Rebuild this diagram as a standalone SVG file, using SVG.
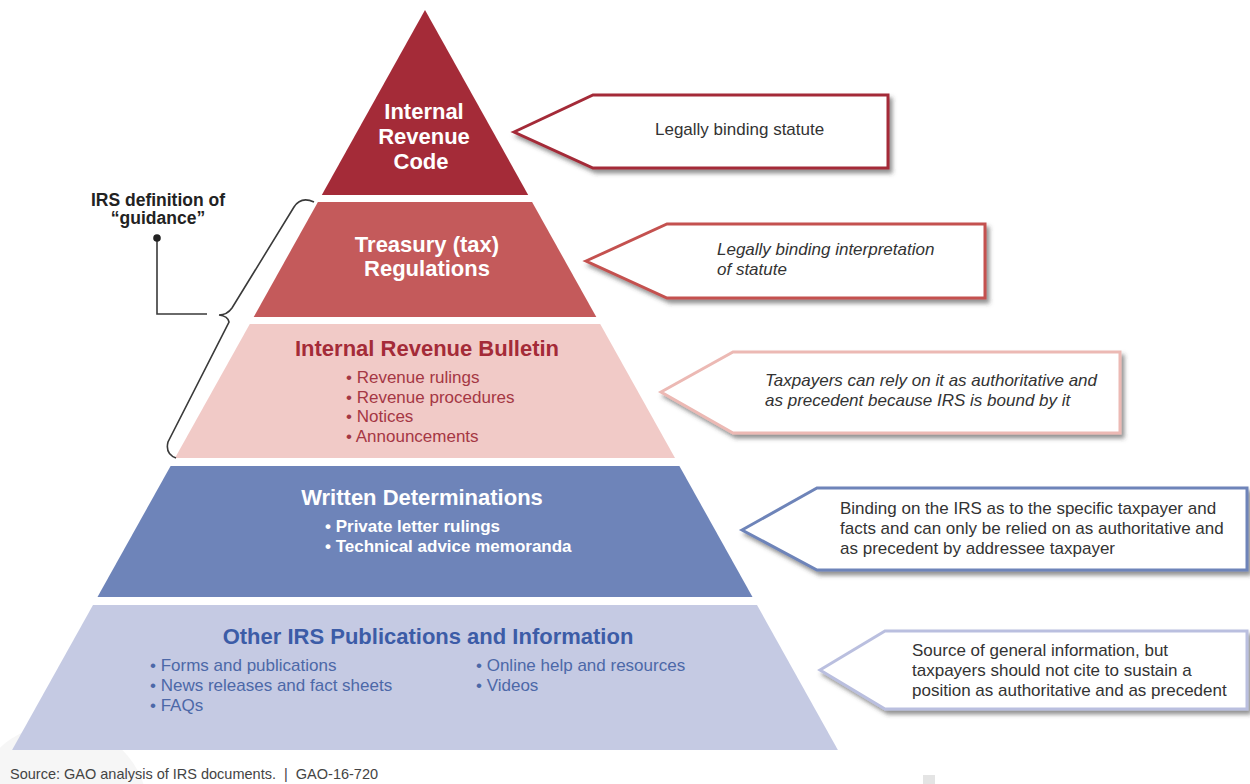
<svg xmlns="http://www.w3.org/2000/svg" width="1250" height="784" viewBox="0 0 1250 784">
  <defs>
    <filter id="shadow" x="-10%" y="-20%" width="130%" height="150%">
      <feDropShadow dx="3" dy="4" stdDeviation="2.2" flood-color="#3a3a3a" flood-opacity="0.55"/>
    </filter>
    <style>
      text { font-family: "Liberation Sans", Arial, sans-serif; }
      .tier-title { font-size: 22px; font-weight: bold; text-anchor: middle; }
      .white { fill: #ffffff; }
      .bul-red { font-size: 17px; fill: #a53744; }
      .bul-white { font-size: 17px; font-weight: bold; fill: #ffffff; }
      .bul-blue { font-size: 17px; fill: #4c68a8; }
      .note { font-size: 17px; fill: #333333; }
      .note-i { font-size: 17px; fill: #333333; font-style: italic; }
      .callout { fill: #ffffff; stroke-width: 3; stroke-linejoin: miter; filter: url(#shadow); }
      .brace { fill: none; stroke: #3a3a3a; stroke-width: 1.6; }
    </style>
  </defs>

  <rect width="1250" height="784" fill="#ffffff"/>

  <!-- faint background marks -->
  <circle cx="60" cy="812" r="88" fill="#f0f0f0" opacity="0.6"/>
  <rect x="923" y="775" width="12" height="9" fill="#e4e4e4"/>

  <!-- pyramid tiers -->
  <g id="tier-code">
    <polygon points="425,10 528.2,195 321.8,195" fill="#a42b38"/>
    <text class="tier-title white" x="424" y="119">Internal</text>
    <text class="tier-title white" x="424" y="144">Revenue</text>
    <text class="tier-title white" x="421" y="169">Code</text>
  </g>

  <g id="tier-regulations">
    <polygon points="317.9,202 532.1,202 596.3,317 253.7,317" fill="#c45a5b"/>
    <text class="tier-title white" x="427" y="252">Treasury (tax)</text>
    <text class="tier-title white" x="427" y="276">Regulations</text>
  </g>

  <g id="tier-bulletin">
    <polygon points="249.8,324 600.2,324 675,458 175,458" fill="#f1cac7"/>
    <text class="tier-title" x="427" y="356" fill="#a42b38">Internal Revenue Bulletin</text>
    <text class="bul-red" x="346" y="383">• Revenue rulings</text>
    <text class="bul-red" x="346" y="403">• Revenue procedures</text>
    <text class="bul-red" x="346" y="422">• Notices</text>
    <text class="bul-red" x="346" y="442">• Announcements</text>
  </g>

  <g id="tier-determinations">
    <polygon points="170.6,466 679.4,466 752.5,597 97.5,597" fill="#6e84b9"/>
    <text class="tier-title white" x="422" y="505">Written Determinations</text>
    <text class="bul-white" x="325" y="532">• Private letter rulings</text>
    <text class="bul-white" x="325" y="552">• Technical advice memoranda</text>
  </g>

  <g id="tier-publications">
    <polygon points="93,605 757,605 837.9,750 12.1,750" fill="#c5cae3"/>
    <text class="tier-title" x="428" y="644" fill="#3c5ca7">Other IRS Publications and Information</text>
    <text class="bul-blue" x="150" y="671">• Forms and publications</text>
    <text class="bul-blue" x="150" y="691">• News releases and fact sheets</text>
    <text class="bul-blue" x="150" y="711">• FAQs</text>
    <text class="bul-blue" x="476" y="671">• Online help and resources</text>
    <text class="bul-blue" x="476" y="691">• Videos</text>
  </g>

  <!-- guidance bracket and label -->
  <g id="guidance-label">
    <text x="158" y="206" font-size="17.5" font-weight="bold" fill="#222222" text-anchor="middle">IRS definition of</text>
    <text x="158" y="224" font-size="17.5" font-weight="bold" fill="#222222" text-anchor="middle">“guidance”</text>
  </g>

  <!-- connectors -->
  <g id="connectors">
    <path class="brace" d="M314,202 Q301,196 294,207 L232,308 Q227,315 219,315 Q228,316 229,322 L168,442 Q165,454 176,458"/>
    <polyline class="brace" points="207,314 157,314 157,238"/>
    <circle cx="157" cy="238" r="3.8" fill="#222222"/>
  </g>

  <!-- callouts -->
  <g id="note-statute">
    <polygon class="callout" stroke="#a42b38" points="514,132 593,95 888,95 888,168 593,168"/>
    <text class="note" x="655" y="135">Legally binding statute</text>
  </g>

  <g id="note-interpretation">
    <polygon class="callout" stroke="#c4514f" points="586,261 667,224 985,224 985,298 667,298"/>
    <text class="note-i" x="717" y="255">Legally binding interpretation</text>
    <text class="note-i" x="717" y="275">of statute</text>
  </g>

  <g id="note-precedent">
    <polygon class="callout" stroke="#ecb9b4" points="661,392 733,352 1120,352 1120,433 733,433"/>
    <text class="note-i" x="765" y="386">Taxpayers can rely on it as authoritative and</text>
    <text class="note-i" x="765" y="406">as precedent because IRS is bound by it</text>
  </g>

  <g id="note-binding">
    <polygon class="callout" stroke="#6e84b9" points="742,530 817,488 1247,488 1247,570 817,570"/>
    <text class="note" x="840" y="514">Binding on the IRS as to the specific taxpayer and</text>
    <text class="note" x="840" y="534">facts and can only be relied on as authoritative and</text>
    <text class="note" x="840" y="554">as precedent by addressee taxpayer</text>
  </g>

  <g id="note-general">
    <polygon class="callout" stroke="#babfdf" points="820,670 885,631 1247,631 1247,709 885,709"/>
    <text class="note" x="912" y="656">Source of general information, but</text>
    <text class="note" x="912" y="676">taxpayers should not cite to sustain a</text>
    <text class="note" x="912" y="696">position as authoritative and as precedent</text>
  </g>

  <text x="10" y="779" font-size="14.5" fill="#444444">Source: GAO analysis of IRS documents.&#160; |&#160; GAO-16-720</text>
</svg>
